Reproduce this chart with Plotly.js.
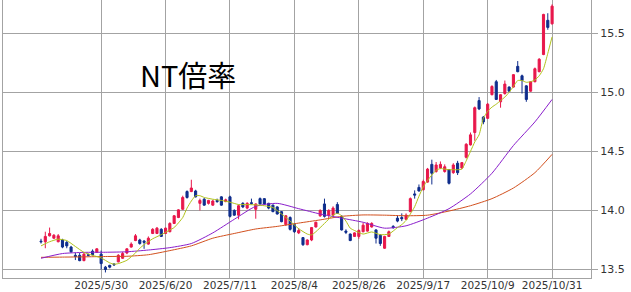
<!DOCTYPE html>
<html>
<head>
<meta charset="utf-8">
<script src="https://cdn.plot.ly/plotly-3.0.1.min.js"></script>
<style>html,body{margin:0;padding:0;background:#fff;}#chart{width:631px;height:292px;}</style>
</head>
<body>
<div id="chart"></div>
<script>
// Trading days (Tokyo) shown on the chart
const mayDays = ['2025/5/12','2025/5/13','2025/5/14','2025/5/15','2025/5/16','2025/5/19','2025/5/20','2025/5/21','2025/5/22','2025/5/23','2025/5/26','2025/5/27','2025/5/28','2025/5/29','2025/5/30'];
const junDays = ['2025/6/2','2025/6/3','2025/6/4','2025/6/5','2025/6/6','2025/6/9','2025/6/10','2025/6/11','2025/6/12','2025/6/13','2025/6/16','2025/6/17','2025/6/18','2025/6/19','2025/6/20','2025/6/23','2025/6/24','2025/6/25','2025/6/26','2025/6/27','2025/6/30'];
const julDays = ['2025/7/1','2025/7/2','2025/7/3','2025/7/4','2025/7/7','2025/7/8','2025/7/9','2025/7/10','2025/7/11','2025/7/14','2025/7/15','2025/7/16','2025/7/17','2025/7/18','2025/7/22','2025/7/23','2025/7/24','2025/7/25','2025/7/28','2025/7/29','2025/7/30','2025/7/31'];
const augDays = ['2025/8/1','2025/8/4','2025/8/5','2025/8/6','2025/8/7','2025/8/8','2025/8/12','2025/8/13','2025/8/14','2025/8/15','2025/8/18','2025/8/19','2025/8/20','2025/8/21','2025/8/22','2025/8/25','2025/8/26','2025/8/27','2025/8/28','2025/8/29'];
const sepDays = ['2025/9/1','2025/9/2','2025/9/3','2025/9/4','2025/9/5','2025/9/8','2025/9/9','2025/9/10','2025/9/11','2025/9/12','2025/9/16','2025/9/17','2025/9/18','2025/9/19','2025/9/22','2025/9/24','2025/9/25','2025/9/26','2025/9/29','2025/9/30'];
const octDays = ['2025/10/1','2025/10/2','2025/10/3','2025/10/6','2025/10/7','2025/10/8','2025/10/9','2025/10/10','2025/10/14','2025/10/15','2025/10/16','2025/10/17','2025/10/20','2025/10/21','2025/10/22','2025/10/23','2025/10/24','2025/10/27','2025/10/28','2025/10/29','2025/10/30','2025/10/31'];
const dates = [].concat(mayDays, junDays, julDays, augDays, sepDays, octDays);

const tickDates = ['2025/5/30','2025/6/20','2025/7/11','2025/8/4','2025/8/26','2025/9/17','2025/10/9','2025/10/31'];

const open = [13.74,13.735,13.785,13.765,13.735,13.75,13.73,13.69,13.62,13.62,13.575,13.625,13.655,13.645,13.63,13.52,13.535,13.545,13.565,13.595,
13.64,13.69,13.745,13.75,13.74,13.715,13.805,13.805,13.84,13.805,13.82,13.89,13.94,14.01,14.16,14.16,14.165,14.06,14.095,14.06,
14.045,14.085,14.115,14.075,14.115,14.00,13.96,14.06,14.02,14.065,14.01,14.10,14.10,14.06,14.045,14.03,13.99,13.88,13.94,13.88,
13.81,13.77,13.71,13.75,13.86,13.955,14.055,13.96,13.96,14.05,13.95,13.825,13.80,13.78,13.78,13.82,13.825,13.86,13.835,13.79,
13.68,13.78,13.865,13.935,13.94,13.925,13.99,14.14,14.195,14.175,14.24,14.39,14.33,14.36,14.33,14.345,14.32,14.40,14.36,14.45,
14.555,14.66,14.93,14.79,14.78,14.98,15.09,14.92,14.99,15.045,15.045,15.22,15.14,15.055,15.01,15.09,15.175,15.32,15.61,15.58];
const high = [13.76,13.82,13.855,13.80,13.80,13.76,13.74,13.70,13.64,13.64,13.64,13.635,13.67,13.68,13.66,13.53,13.54,13.555,13.63,13.65,
13.68,13.73,13.80,13.76,13.75,13.78,13.85,13.86,13.85,13.855,13.90,13.96,14.01,14.125,14.17,14.26,14.175,14.10,14.105,14.09,
14.09,14.10,14.12,14.10,14.125,14.01,14.05,14.07,14.07,14.10,14.06,14.11,14.105,14.065,14.05,14.035,13.995,13.96,13.95,13.89,
13.85,13.775,13.755,13.86,13.905,14.01,14.10,14.01,14.035,14.07,13.96,13.84,13.805,13.815,13.84,13.895,13.90,13.90,13.84,13.80,
13.785,13.83,13.875,13.96,13.975,13.975,14.11,14.17,14.22,14.26,14.36,14.43,14.41,14.415,14.39,14.35,14.40,14.42,14.41,14.57,
14.66,14.88,14.96,14.80,14.91,15.06,15.105,14.985,15.10,15.05,15.155,15.265,15.15,15.06,15.095,15.21,15.29,15.665,15.67,15.745];
const low = [13.72,13.68,13.78,13.76,13.73,13.68,13.68,13.64,13.58,13.57,13.57,13.61,13.62,13.64,13.50,13.475,13.51,13.53,13.56,13.59,
13.63,13.685,13.74,13.71,13.675,13.71,13.80,13.80,13.775,13.80,13.815,13.885,13.935,14.005,14.10,14.155,14.11,14.00,14.04,14.05,
14.04,14.065,14.04,14.07,13.94,13.955,13.925,14.02,14.01,14.05,13.93,14.05,14.05,14.01,13.985,13.965,13.90,13.87,13.83,13.81,
13.80,13.70,13.705,13.74,13.855,13.945,13.94,13.93,13.95,13.97,13.83,13.80,13.74,13.775,13.76,13.815,13.82,13.855,13.72,13.70,
13.675,13.775,13.845,13.90,13.91,13.92,13.985,14.10,14.16,14.17,14.235,14.22,14.32,14.35,14.32,14.22,14.31,14.30,14.35,14.44,
14.55,14.59,14.85,14.73,14.775,14.975,14.935,14.87,14.98,15.005,15.04,15.17,14.99,14.92,15.005,15.085,15.17,15.315,15.53,15.575];
const close = [13.735,13.78,13.805,13.79,13.785,13.69,13.70,13.65,13.61,13.575,13.63,13.62,13.625,13.675,13.55,13.50,13.52,13.54,13.62,13.635,
13.675,13.715,13.785,13.72,13.73,13.765,13.84,13.85,13.78,13.85,13.89,13.955,14.005,14.11,14.11,14.19,14.115,14.085,14.045,14.085,
14.08,14.075,14.045,14.09,13.95,13.96,14.04,14.03,14.06,14.06,14.055,14.055,14.055,14.02,13.99,13.97,13.905,13.955,13.84,13.82,
13.83,13.71,13.75,13.855,13.90,14.00,13.95,14.00,14.02,13.975,13.835,13.815,13.745,13.81,13.83,13.875,13.89,13.89,13.765,13.72,
13.78,13.82,13.855,13.91,13.93,13.96,14.10,14.13,14.165,14.245,14.35,14.315,14.385,14.39,14.37,14.23,14.385,14.32,14.405,14.56,
14.64,14.87,14.86,14.75,14.90,15.05,14.94,14.98,15.07,15.01,15.15,15.175,15.10,14.94,15.09,15.20,15.28,15.66,15.55,15.73];

// Moving averages (day positions into dates)
const ma5Days = [0,2,4,6,8,10,12,14,16,17,18,20,22,23,24,26,28,30,31,33,34,35,36,37,38,40,42,44,46,48,50,52,54,56,58,60,62,63,64,66,68,69,70,71,72,73,75,77,79,81,83,84,85,86,87,88,89,90,91,92,93,94,95,96,97,98,99,100,101,102,103,104,105,106,107,108,109,110,111,112,113,114,115,116,117,118,119];
const ma5 = [13.70,13.735,13.757,13.745,13.695,13.645,13.62,13.598,13.556,13.545,13.55,13.578,13.64,13.68,13.71,13.76,13.795,13.835,13.855,13.94,14.02,14.08,14.125,14.125,14.11,
14.095,14.085,14.07,14.05,14.05,14.047,14.04,14.025,13.97,13.91,13.845,13.80,13.793,13.82,13.89,13.96,13.976,13.955,13.91,13.85,13.83,
13.80,13.818,13.795,13.80,13.855,13.88,13.915,13.97,14.032,14.12,14.20,14.255,14.30,14.34,14.355,14.35,14.345,14.345,14.345,14.35,14.42,
14.50,14.58,14.64,14.78,14.84,14.875,14.90,14.93,14.96,15.00,15.05,15.10,15.10,15.085,15.09,15.105,15.14,15.20,15.33,15.47];
const maLongDays = [0,5,10,15,20,25,30,35,40,45,50,55,60,65,70,75,80,85,90,95,100,105,110,115,119];
const ma25 = [13.595,13.635,13.645,13.646,13.65,13.665,13.685,13.72,13.81,13.925,14.035,14.06,14.015,13.97,13.935,13.90,13.85,13.87,13.935,14.015,14.14,14.315,14.55,14.75,14.94];
const ma75 = [13.603,13.605,13.607,13.61,13.612,13.625,13.66,13.70,13.765,13.805,13.843,13.865,13.893,13.92,13.95,13.962,13.96,13.955,13.96,13.995,14.04,14.10,14.19,14.32,14.475];

const upColor = '#e8174b';
const downColor = '#0f2d8c';
const gridColor = '#a3a3a3';

const traces = [
  {
    type: 'candlestick', x: dates, open: open, high: high, low: low, close: close,
    increasing: {line: {color: upColor, width: 1}, fillcolor: upColor},
    decreasing: {line: {color: downColor, width: 1}, fillcolor: downColor},
    whiskerwidth: 0, hoverinfo: 'skip'
  },
  {type: 'scatter', mode: 'lines', x: maLongDays.map(i => dates[i]), y: ma75,
   line: {color: '#d2501e', width: 1, shape: 'spline', smoothing: 0.6}, hoverinfo: 'skip'},
  {type: 'scatter', mode: 'lines', x: maLongDays.map(i => dates[i]), y: ma25,
   line: {color: '#8a1ecc', width: 1, shape: 'spline', smoothing: 0.6}, hoverinfo: 'skip'},
  {type: 'scatter', mode: 'lines', x: ma5Days.map(i => dates[i]), y: ma5,
   line: {color: '#b0c21a', width: 1, shape: 'spline', smoothing: 0.5}, hoverinfo: 'skip'}
];

const layout = {
  width: 631, height: 292,
  margin: {l: 3, r: 40, t: 0, b: 14, pad: 0},
  paper_bgcolor: '#ffffff', plot_bgcolor: '#ffffff',
  showlegend: false,
  font: {family: 'DejaVu Sans', size: 11, color: '#333333'},
  xaxis: {
    type: 'category', range: [-8.85, 128.06], automargin: false,
    tickvals: tickDates, ticktext: tickDates, ticks: '',
    ticklabelstandoff: -3,
    showgrid: true, gridcolor: gridColor, gridwidth: 1,
    showline: true, linecolor: gridColor, linewidth: 1, mirror: true,
    rangeslider: {visible: false}, fixedrange: true,
    tickfont: {family: 'DejaVu Sans', size: 10.5, color: '#333333'}
  },
  yaxis: {
    side: 'right', range: [13.428, 15.782], automargin: false,
    tick0: 13.5, dtick: 0.5, tickformat: '.1f',
    ticks: 'outside', ticklen: 6, tickcolor: gridColor,
    showgrid: true, gridcolor: gridColor, gridwidth: 1, zeroline: false,
    showline: true, linecolor: gridColor, linewidth: 1, mirror: true, fixedrange: true,
    tickfont: {family: 'DejaVu Sans', size: 11, color: '#333333'}
  },
  annotations: [{
    text: 'NT倍率', xref: 'paper', yref: 'paper', x: 0.229, y: 0.734,
    xanchor: 'left', yanchor: 'middle', showarrow: false,
    font: {family: 'Noto Sans CJK JP', size: 29, color: '#000000'}
  }]
};

Plotly.newPlot('chart', traces, layout, {staticPlot: true, displayModeBar: false});
</script>
</body>
</html>
